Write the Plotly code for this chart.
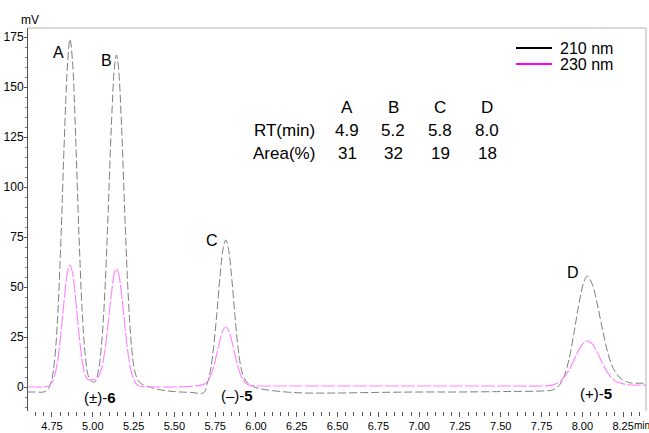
import plotly.graph_objects as go

# ---- data ----
rt_min = [4.60, 4.65, 4.70, 4.725, 4.745, 4.765, 4.785, 4.805, 4.825, 4.845, 4.86, 4.875,
          4.895, 4.915, 4.935, 4.955, 4.975, 4.995, 5.013, 5.033, 5.053, 5.073, 5.093, 5.113,
          5.133, 5.145, 5.157, 5.177, 5.197, 5.217, 5.237, 5.257, 5.277, 5.30, 5.35, 5.40,
          5.50, 5.60, 5.68, 5.70, 5.72, 5.74, 5.76, 5.78, 5.80, 5.815, 5.83, 5.85, 5.87, 5.89,
          5.91, 5.93, 5.95, 5.98, 6.02, 6.10, 6.20, 6.30, 6.50, 6.75, 7.00, 7.25, 7.50, 7.60,
          7.75, 7.82, 7.86, 7.89, 7.92, 7.95, 7.98, 8.01, 8.03, 8.06, 8.09, 8.12, 8.15, 8.18,
          8.21, 8.24, 8.27, 8.30, 8.39]

mv_210 = [-2.5, -2.5, -2.5, -1.2, 2.4, 12.6, 35.5, 74.3, 122.5, 161, 174, 163.7,
          125, 76.8, 38, 15.1, 5.0, 2.8, 2.5, 7.5, 20.6, 46, 85, 129,
          160, 166, 160, 129, 85, 46, 20.6, 8, 3.5, 1.5, 0, -1.2,
          -2.3, -2.7, -2.8, 1.3, 7.8, 19.6, 36.7, 55.7, 69.8, 73.5, 69.8, 55.7, 36.7, 19.6,
          9, 4, 2, 0.3, -0.8, -1.8, -2.6, -3, -3, -2.7, -2.5, -2.5, -2.3, -2.2,
          -2, -1.4, 1, 5.7, 14.5, 27.7, 42, 52.7, 55.5, 51.5, 42, 30, 19, 11,
          6.5, 4, 2.7, 2, 2]

mv_230 = [0, 0, 0, 0.4, 1.7, 5.3, 13.3, 26.9, 43.8, 57.4, 61, 57.4,
          43.8, 26.9, 13.3, 5.5, 3.5, 3.8, 4, 5, 9, 17.5, 30.8, 45.8,
          57, 59, 57, 45.8, 30.3, 16.4, 7.3, 2.7, 0.8, 0.3, 0, 0,
          0, 0.3, 1.3, 2.6, 5.3, 10.1, 16.6, 23.6, 28.7, 30, 28.7, 23.6, 16.6, 10.1,
          5.3, 2.6, 1.2, 0.6, 0.5, 0.5, 0.5, 0.5, 0.5, 0.5, 0.5, 0.5, 0.5, 0.5,
          0.5, 1.1, 2.6, 5, 8.8, 13.8, 18.8, 22.3, 23, 21.6, 17.5, 12.4, 7.8, 4.5,
          2.6, 1.8, 1.3, 1, 1]

peak_names = ["A", "B", "C", "D"]
peak_rt = [4.9, 5.2, 5.8, 8.0]
peak_area = [31, 32, 19, 18]
label_pos_rt = [4.787, 5.081, 5.73, 7.942]
label_pos_mv = [167.5, 163.5, 73.5, 57.5]

compound_labels = ["(\u00b1)-<b>6</b>", "(\u2013)-<b>5</b>", "(+)-<b>5</b>"]
compound_rt = [5.044, 5.884, 8.083]
compound_mv = [-5, -4, -3]

legend_names = ["210 nm", "230 nm"]
legend_colors = ["black", "#ff00ff"]

x_ticks = [4.75, 5.00, 5.25, 5.50, 5.75, 6.00, 6.25, 6.50, 6.75, 7.00, 7.25, 7.50, 7.75, 8.00, 8.25]
y_ticks = [0, 25, 50, 75, 100, 125, 150, 175]

FONT = "Liberation Sans, Arial, sans-serif"
NARROW = "Liberation Sans Narrow, Arial Narrow, Liberation Sans, sans-serif"

W, H = 649, 433
L, R, T, B = 28, 3, 28, 22
pw, ph = W - L - R, H - T - B
def px(x):
    return (x - L) / pw
def py(y):
    return 1 - (y - T) / ph

def note(x, y, text, size=17, xanchor="center", family=FONT):
    fig.add_annotation(x=px(x), y=py(y), xref="paper", yref="paper", text=text,
                       showarrow=False, xanchor=xanchor, yanchor="middle",
                       font=dict(size=size, family=family, color="black"))

fig = go.Figure()
fig.add_trace(go.Scatter(x=rt_min, y=mv_210, mode="lines", name=legend_names[0], showlegend=False,
                         line=dict(color="#7f7f7f", width=1, dash="8px,3px", shape="spline")))
fig.add_trace(go.Scatter(x=rt_min, y=mv_230, mode="lines", name=legend_names[1], showlegend=False,
                         line=dict(color="#ff88ff", width=1.2, dash="14px,2px", shape="spline")))

# manual legend (tight spacing as in the reference)
for i, (nm, col) in enumerate(zip(legend_names, legend_colors)):
    yy = 48 + 16 * i
    fig.add_shape(type="line", xref="paper", yref="paper", x0=px(516), x1=px(552),
                  y0=py(yy), y1=py(yy), line=dict(color=col, width=2))
    note(558, yy, nm, size=16, xanchor="left")

for n, xr, yv in zip(peak_names, label_pos_rt, label_pos_mv):
    fig.add_annotation(x=xr, y=yv, text=n, showarrow=False, xref="x", yref="y",
                       xanchor="center", yanchor="middle",
                       font=dict(size=16, color="black", family=FONT))
for t, xr, yv in zip(compound_labels, compound_rt, compound_mv):
    fig.add_annotation(x=xr, y=yv, text=t, showarrow=False, xref="x", yref="y",
                       xanchor="center", yanchor="middle",
                       font=dict(size=15, color="black", family=FONT))

col_x = [347, 393, 440, 487]
note(252, 130, "RT(min)", xanchor="left")
note(251, 153, "Area(%)", xanchor="left")
for i in range(4):
    note(col_x[i], 107, peak_names[i])
    note(col_x[i], 130, f"{peak_rt[i]:.1f}")
    note(col_x[i], 153, str(peak_area[i]))

note(30, 20, "mV", size=12, family=NARROW)
note(632, 425, "min", size=10, xanchor="left", family=NARROW)

# top and right frame lines
fig.add_shape(type="line", xref="paper", yref="paper", x0=0, x1=1, y0=1, y1=1,
              line=dict(color="#b0b0b0", width=1))
fig.add_shape(type="line", xref="paper", yref="paper", x0=1, x1=1, y0=0, y1=1,
              line=dict(color="#b0b0b0", width=1))

fig.update_layout(
    width=W, height=H,
    margin=dict(l=L, r=R, t=T, b=B),
    paper_bgcolor="white", plot_bgcolor="white",
    font=dict(family=FONT, color="black"),
    showlegend=False,
    xaxis=dict(range=[4.603, 8.39], tickvals=x_ticks, automargin=False,
               ticktext=[f"{v:.2f}" for v in x_ticks],
               showgrid=False, zeroline=False, showline=False,
               ticks="outside", ticklen=5, tickcolor="#555", ticklabelstandoff=0,
               tickfont=dict(size=11, family=NARROW, color="black"),
               minor=dict(dtick=0.05, tick0=4.75, ticks="outside", ticklen=4, tickcolor="#555")),
    yaxis=dict(range=[-12, 179.5], tickvals=y_ticks, automargin=False,
               showgrid=False, zeroline=False, showline=True, linecolor="#555", linewidth=1,
               ticks="outside", ticklen=3, tickcolor="#555", ticklabelstandoff=-2,
               tickfont=dict(size=12, family=NARROW, color="black"),
               minor=dict(dtick=5, tick0=0, ticks="outside", ticklen=2, tickcolor="#777")),
)

fig.write_html("out.html", config={"displayModeBar": False},
               post_script="document.body.style.margin='0';")
